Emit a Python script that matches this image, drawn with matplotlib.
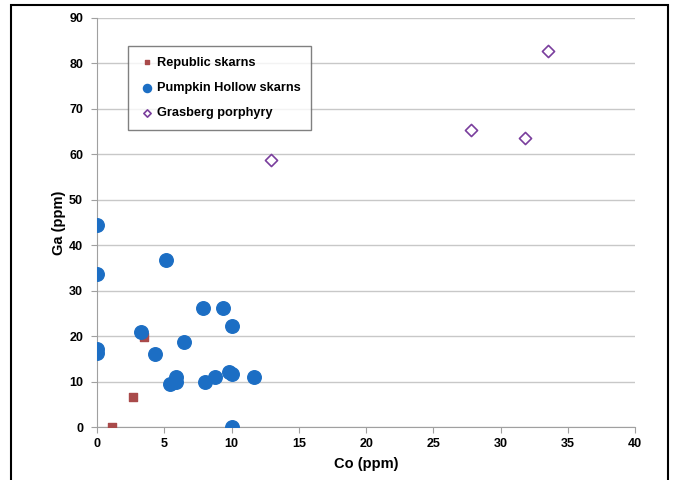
import matplotlib
matplotlib.use("Agg")
import matplotlib.pyplot as plt
from matplotlib.patches import Rectangle

plt.rcParams['font.family'] = ['Liberation Sans', 'DejaVu Sans']

# Republic skarns
rep_co = [1.1, 2.7, 3.5]
rep_ga = [0.0, 6.6, 19.8]

# Pumpkin Hollow skarns
ph_co = [0.0, 0.0, 0.0, 0.0, 3.3, 4.3, 5.1, 6.5, 5.4, 5.9, 5.9, 7.9, 8.0, 8.8,
         9.4, 10.0, 9.8, 10.0, 10.0, 11.7]
ph_ga = [44.5, 33.6, 17.3, 16.4, 21.0, 16.1, 36.8, 18.7, 9.6, 11.1, 10.0, 26.3,
         9.9, 11.1, 26.3, 22.2, 12.1, 11.6, 0.0, 11.1]

# Grasberg porphyry
gr_co = [12.9, 27.8, 31.8, 33.5]
gr_ga = [58.7, 65.3, 63.5, 82.8]

fig = plt.figure(figsize=(6.78, 4.80), dpi=100)
ax = fig.add_axes([0.143, 0.110, 0.794, 0.8525])

ax.scatter(rep_co, rep_ga, marker='s', s=28, color='#A94A4A', zorder=3,
           label='Republic skarns')
ax.scatter(ph_co, ph_ga, marker='o', s=95, color='#1C6EC4', zorder=3,
           label='Pumpkin Hollow skarns')
ax.scatter(gr_co, gr_ga, marker='D', s=38, facecolor='white', edgecolor='#7A3E9D',
           linewidth=1.2, zorder=3, label='Grasberg porphyry')

ax.set_xlim(0, 40)
ax.set_ylim(0, 90)
ax.set_xticks(range(0, 41, 5))
ax.set_yticks(range(0, 91, 10))
ax.yaxis.grid(True, color='#C8C8C8', linewidth=1)
ax.set_axisbelow(True)
for s in ['top', 'right']:
    ax.spines[s].set_visible(False)
for s in ['left', 'bottom']:
    ax.spines[s].set_color('#A0A0A0')
ax.tick_params(axis='both', colors='#A0A0A0', labelcolor='black', labelsize=9,
               length=4)
ax.tick_params(axis='y', pad=6)
for lab in ax.get_xticklabels() + ax.get_yticklabels():
    lab.set_fontweight('bold')
ax.set_xlabel('Co (ppm)', fontsize=10.5, fontweight='bold', labelpad=5)
ax.set_ylabel('Ga (ppm)', fontsize=10.5, fontweight='bold', labelpad=2)

leg = ax.legend(loc='upper left', bbox_to_anchor=(0.046, 0.948), frameon=True,
                fancybox=False, edgecolor='#606060',
                prop={'weight': 'bold', 'size': 9.2}, handletextpad=0.2,
                labelspacing=1.05, borderpad=0.85, markerscale=0.6,
                handlelength=1.2)
leg.get_frame().set_linewidth(1)

fig.patches.append(Rectangle((11 / 678, -0.01), 657 / 678, 1 - 5 / 480 + 0.01,
                             transform=fig.transFigure, fill=False,
                             edgecolor='black', linewidth=1.5))

fig.savefig('out.png', dpi=100)
